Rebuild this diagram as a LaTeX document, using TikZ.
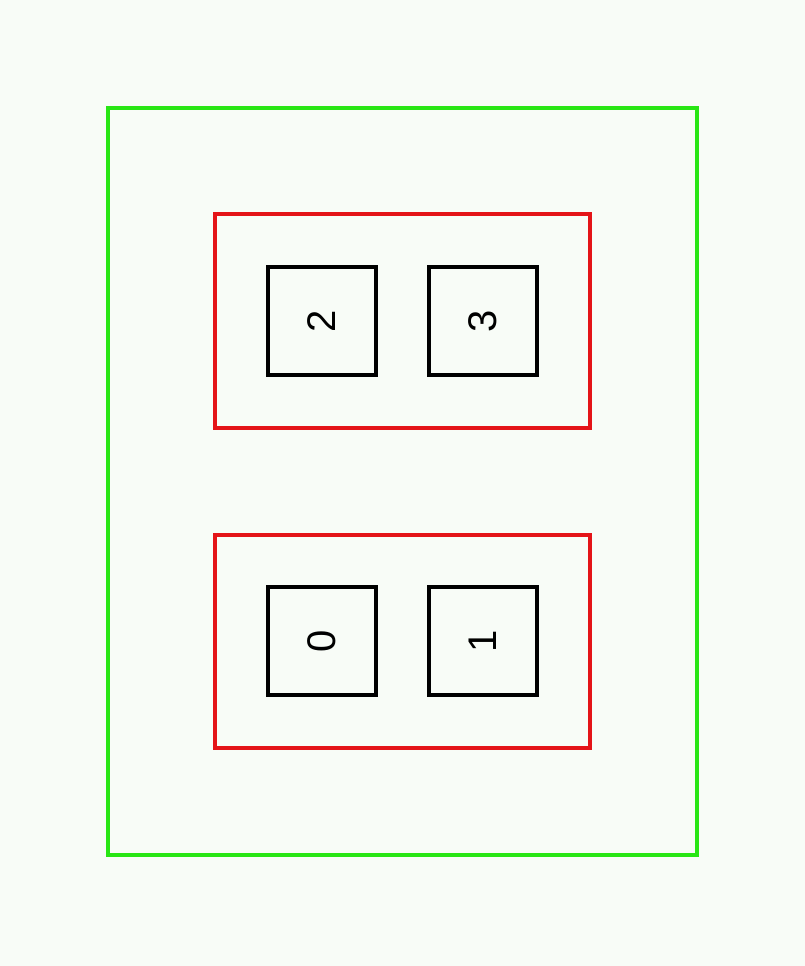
\documentclass[tikz,border=0pt]{standalone}
\usepackage{fontspec}
\setmainfont{Liberation Sans}
\definecolor{bgc}{RGB}{248,252,247}
\definecolor{grn}{RGB}{40,230,20}
\definecolor{rd}{RGB}{228,20,24}
\begin{document}
\begin{tikzpicture}[x=1pt,y=-1pt,
  outerbox/.style={draw=grn,line width=4pt},
  groupbox/.style={draw=rd,line width=4pt},
  cellbox/.style={draw=black,line width=4pt,minimum width=108pt,minimum height=108pt,inner sep=0pt,font=\fontsize{40}{40}\selectfont}]
\fill[bgc] (0,0) rectangle (805,966);
\useasboundingbox (0,0) rectangle (805,966);
\draw[outerbox] (108,108) rectangle (697,855);
\draw[groupbox] (215,214) rectangle (590,428);
\draw[groupbox] (215,535) rectangle (590,748);
\node[cellbox] (c2) at (322,321) {\rotatebox{90}{2}};
\node[cellbox] (c3) at (483,321) {\rotatebox{90}{3}};
\node[cellbox] (c0) at (322,641) {\rotatebox{90}{0}};
\node[cellbox] (c1) at (483,641) {\rotatebox{90}{1}};
\end{tikzpicture}
\end{document}
